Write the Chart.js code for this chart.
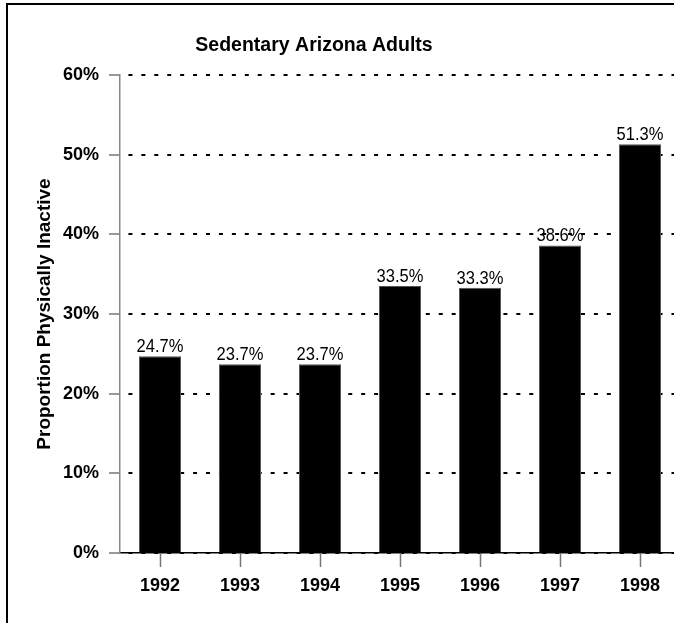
<!DOCTYPE html>
<html>
<head>
<meta charset="utf-8">
<script src="https://cdn.jsdelivr.net/npm/chart.js@4"></script>
<style>
  html, body { margin: 0; padding: 0; background: #fff; overflow: hidden; }
  #wrap { width: 690px; height: 623px; }
</style>
</head>
<body>
<div id="wrap"><canvas id="sedentary" width="690" height="623"></canvas></div>
<script>
const years = ['1992', '1993', '1994', '1995', '1996', '1997', '1998'];
const inactive = [24.7, 23.7, 23.7, 33.5, 33.3, 38.6, 51.3];
const yTicks = [0, 10, 20, 30, 40, 50, 60];

const chartTitle = 'Sedentary Arizona Adults';
const yTitle = 'Proportion Physically Inactive';

const FONT = '"Liberation Sans", Arial, sans-serif';

// frame, title and the centred x tick marks, drawn by hand
const framePlugin = {
  id: 'frame',
  beforeDraw(chart) {
    const c = chart.ctx;
    c.save();
    c.fillStyle = '#fff';
    c.fillRect(0, 0, chart.width, chart.height);
    c.strokeStyle = '#000';
    c.lineWidth = 2;
    c.beginPath();
    c.moveTo(7, chart.height);
    c.lineTo(7, 4);
    c.lineTo(chart.width, 4);
    c.stroke();
    c.restore();
  },
  afterDraw(chart) {
    const c = chart.ctx;
    const xs = chart.scales.x;
    const bottom = chart.chartArea.bottom;
    c.save();
    c.strokeStyle = '#777';
    c.lineWidth = 1.5;
    xs.ticks.forEach((t, i) => {
      const px = Math.round(xs.getPixelForTick(i)) + 0.5;
      c.beginPath();
      c.moveTo(px, bottom);
      c.lineTo(px, bottom + 14);
      c.stroke();
    });
    c.font = 'bold 19.5px ' + FONT;
    c.fillStyle = '#000';
    c.textAlign = 'center';
    c.textBaseline = 'middle';
    c.fillText(chartTitle, 314, 46);
    c.restore();
  }
};

// value labels on top of the bars (narrow-ish face like the original)
const barLabels = {
  id: 'barLabels',
  afterDatasetsDraw(chart) {
    const c = chart.ctx;
    const meta = chart.getDatasetMeta(0);
    c.save();
    c.font = '19px ' + FONT;
    c.fillStyle = '#000';
    c.textAlign = 'center';
    c.textBaseline = 'alphabetic';
    meta.data.forEach((bar, i) => {
      c.save();
      c.translate(bar.x, bar.y - 4);
      c.scale(0.87, 1);
      c.fillText(inactive[i].toFixed(1) + '%', 0, 0);
      c.restore();
    });
    c.restore();
  }
};

new Chart(document.getElementById('sedentary'), {
  type: 'bar',
  data: {
    labels: years,
    datasets: [{
      data: inactive,
      backgroundColor: '#000',
      borderColor: '#555',
      borderWidth: 1,
      categoryPercentage: 1,
      barPercentage: 0.525
    }]
  },
  options: {
    responsive: false,
    animation: false,
    devicePixelRatio: 1,
    layout: { padding: { left: 8, top: 75, right: 10, bottom: 0 } },
    plugins: {
      legend: { display: false },
      tooltip: { enabled: false },
      title: { display: false }
    },
    scales: {
      x: {
        offset: true,
        afterFit: (s) => { s.height = 70; },
        grid: {
          drawOnChartArea: false,
          drawTicks: true,
          tickLength: 14,
          tickColor: 'rgba(0,0,0,0)'
        },
        border: { color: '#000', width: 1.5 },
        ticks: {
          color: '#000',
          padding: 8,
          autoSkip: false,
          font: { family: FONT, size: 18, weight: 'bold' },
          maxRotation: 0
        }
      },
      y: {
        min: 0,
        max: 60,
        afterFit: (s) => { s.width = 112; },
        afterBuildTicks: (s) => { s.ticks = yTicks.map(v => ({ value: v })); },
        grid: {
          color: '#000',
          lineWidth: 2,
          tickLength: 11,
          tickColor: '#777',
          tickWidth: 1.5,
          tickBorderDash: []
        },
        border: { color: '#888', width: 1.5, dash: [4, 8.93], dashOffset: 5 },
        ticks: {
          color: '#000',
          padding: 10,
          font: { family: FONT, size: 18, weight: 'bold' },
          callback: (v) => v + '%'
        },
        title: {
          display: true,
          text: yTitle,
          color: '#000',
          padding: { top: 25.6, bottom: 0 },
          font: { family: FONT, size: 19, weight: 'bold' }
        }
      }
    }
  },
  plugins: [framePlugin, barLabels]
});
</script>
</body>
</html>
